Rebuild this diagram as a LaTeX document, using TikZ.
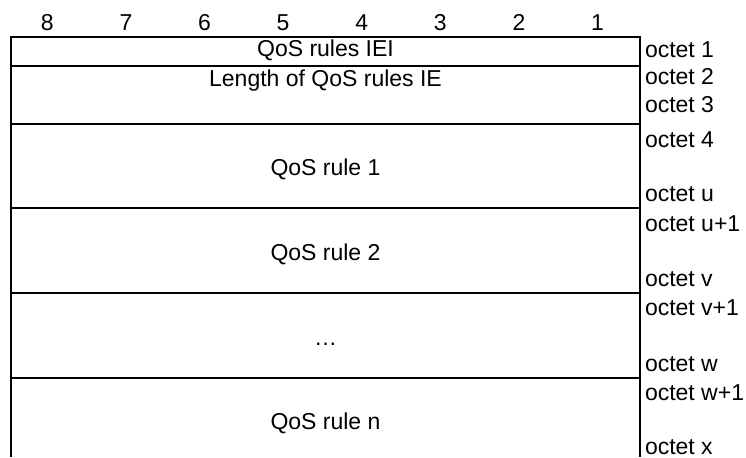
\documentclass[tikz,border=0pt]{standalone}
\usepackage{fontspec}
\setmainfont{Liberation Sans}
\usetikzlibrary{positioning}

\begin{document}
\begin{tikzpicture}[x=0.5pt,y=-0.5pt,line width=1pt,
  every node/.style={font=\fontsize{11.5}{14}\selectfont, inner sep=0pt}]
\useasboundingbox (0,0) rectangle (746,457);
% bit numbers
\foreach \b in {1,...,8} {
  \node[anchor=base] (bit\b) at ({47.3+(8-\b)*78.6},30) {\b};
}
% frame and field borders
\draw (11,457) -- (11,37) -- (640,37) -- (640,457);
\foreach \y in {66,124,208,293,378} {
  \draw (11,\y) -- (640,\y);
}
% field contents
\foreach \name/\y/\txt in {iei/56/{QoS rules IEI}, len/86/{Length of QoS rules IE},
  ruleA/175/{QoS rule 1}, ruleB/260/{QoS rule 2}, dots/345/{…}, ruleN/429/{QoS rule n}} {
  \node[anchor=base] (\name) at (325.5,\y) {\txt};
}
% octet numbers
\foreach \name/\y/\txt in {oct1/57/{octet 1}, oct2/84.5/{octet 2}, oct3/112/{octet 3},
  oct4/147/{octet 4}, octu/201.7/{octet u}, octuA/231.7/{octet u+1},
  octv/286.7/{octet v}, octvA/315/{octet v+1}, octw/371.7/{octet w},
  octwA/400/{octet w+1}, octx/454.5/{octet x}} {
  \node[anchor=base west] (\name) at (644,\y) {\txt};
}
\end{tikzpicture}
\end{document}
